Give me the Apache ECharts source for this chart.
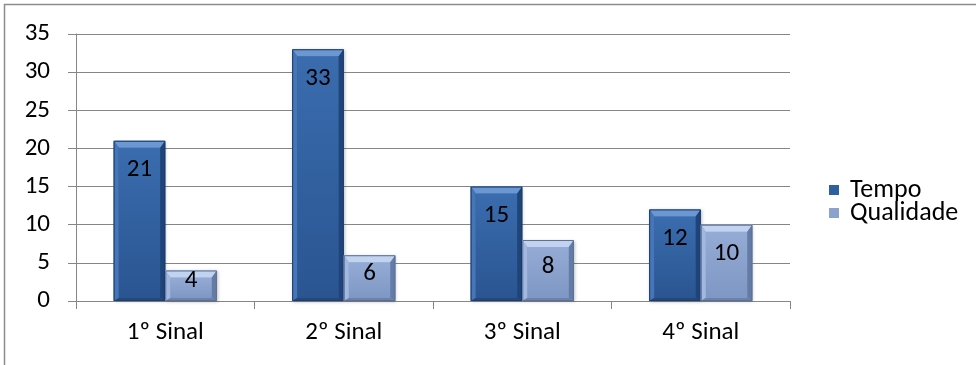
<!DOCTYPE html>
<html>
<head>
<meta charset="utf-8">
<script src="https://cdn.jsdelivr.net/npm/echarts@6/dist/echarts.min.js"></script>
<style>
  html, body { margin: 0; padding: 0; background: #fff; }
  #chart { width: 976px; height: 365px; }
</style>
</head>
<body>
<div id="chart"></div>
<script>
// Sinais avaliados e as duas medidas por sinal
const categories = ['1º Sinal', '2º Sinal', '3º Sinal', '4º Sinal'];
const tempo = [21, 33, 15, 12];
const qualidade = [4, 6, 8, 10];
const seriesNames = ['Tempo', 'Qualidade'];
const yTicks = { min: 0, max: 35, interval: 5 };

const FONT = 'Carlito, Lato, "Open Sans", sans-serif';
const FS = 25;

// Bevelled colour sets: face top/bottom, top bevel, left, right, bottom, outline
const palettes = [
  { faceTop: '#3a6cae', faceBot: '#2a5591', top: '#6b97d3', left: '#4676b8', right: '#1f4479', bottom: '#22487f', edge: '#1c3d6d' },
  { faceTop: '#94abd5', faceBot: '#7f97c4', top: '#c2d3ef', left: '#a3b8de', right: '#647ba6', bottom: '#6a82ad', edge: '#5a6f98' }
];

function bevelBar(side) {
  const p = palettes[side];
  return function (params, api) {
    const cat = api.value(0);
    const val = api.value(1);
    const base = api.coord([cat, 0]);
    const tip = api.coord([cat, val]);
    const band = api.size([1, 0])[0];
    const bw = band * 0.289;
    const x0 = side === 0 ? base[0] - bw : base[0];
    const x1 = x0 + bw;
    const y0 = tip[1];
    const yb = base[1];
    const h = yb - y0;
    const bt = Math.min(7, h / 3);   // top bevel depth
    const bs = 5;                     // side bevel depth
    const bb = 3;                     // bottom bevel depth
    const labelOffset = Math.min(29, h * 0.55 - 6.5);
    return {
      type: 'group',
      children: [
        { type: 'rect', shape: { x: x0, y: y0, width: bw, height: h },
          style: { fill: p.faceBot, shadowBlur: 3, shadowColor: 'rgba(0,0,0,0.25)', shadowOffsetX: 1, shadowOffsetY: 1 } },
        { type: 'rect', shape: { x: x0 + bs, y: y0 + bt, width: bw - 2 * bs, height: h - bt - bb },
          style: { fill: new echarts.graphic.LinearGradient(0, 0, 0, 1, [
            { offset: 0, color: p.faceTop }, { offset: 1, color: p.faceBot }]) } },
        { type: 'polygon', shape: { points: [[x0, y0], [x1, y0], [x1 - bs, y0 + bt], [x0 + bs, y0 + bt]] },
          style: { fill: p.top } },
        { type: 'polygon', shape: { points: [[x0, y0], [x0 + bs, y0 + bt], [x0 + bs, yb - bb], [x0, yb]] },
          style: { fill: p.left } },
        { type: 'polygon', shape: { points: [[x1, y0], [x1, yb], [x1 - bs, yb - bb], [x1 - bs, y0 + bt]] },
          style: { fill: p.right } },
        { type: 'polygon', shape: { points: [[x0, yb], [x0 + bs, yb - bb], [x1 - bs, yb - bb], [x1, yb]] },
          style: { fill: p.bottom } },
        { type: 'rect', shape: { x: x0 + 0.5, y: y0 + 0.5, width: bw - 1, height: h - 1 },
          style: { fill: 'none', stroke: p.edge, lineWidth: 1 } },
        { type: 'text', x: (x0 + x1) / 2, y: y0 + labelOffset,
          style: { text: String(val), fill: '#000', fontSize: FS, fontFamily: FONT, align: 'center', verticalAlign: 'middle' } }
      ]
    };
  };
}

const chart = echarts.init(document.getElementById('chart'), null, { renderer: 'canvas' });
chart.setOption({
  animation: false,
  backgroundColor: '#fff',
  textStyle: { fontFamily: FONT },
  graphic: [{
    type: 'rect', silent: true, z: -10,
    shape: { x: 4.5, y: 4.5, width: 1200, height: 1200 },
    style: { fill: 'none', stroke: '#8c8c8c', lineWidth: 1.5 }
  }],
  grid: { left: 76, right: 186, top: 34, bottom: 64 },
  legend: {
    orient: 'vertical', left: 829, top: 177, padding: 0,
    itemWidth: 10, itemHeight: 10, itemGap: -3,
    icon: 'rect',
    data: seriesNames,
    textStyle: { fontSize: 26, lineHeight: 20, color: '#000', fontFamily: FONT, padding: [0, 0, 0, 6] }
  },
  xAxis: {
    type: 'category',
    data: categories,
    boundaryGap: true,
    axisLine: { lineStyle: { color: '#868686', width: 1 } },
    axisTick: { show: true, length: 8, lineStyle: { color: '#868686' } },
    axisLabel: { fontSize: FS, color: '#000', margin: 19, fontFamily: FONT },
    splitLine: { show: false }
  },
  yAxis: {
    type: 'value',
    min: yTicks.min, max: yTicks.max, interval: yTicks.interval,
    axisLine: { show: true, lineStyle: { color: '#868686', width: 1 } },
    axisTick: { show: true, length: 8, lineStyle: { color: '#868686' } },
    axisLabel: { fontSize: FS, color: '#000', margin: 26, fontFamily: FONT },
    splitLine: { show: true, lineStyle: { color: '#868686', width: 1 } }
  },
  series: [
    {
      name: seriesNames[0], type: 'custom',
      itemStyle: { color: '#2e5f9f' },
      encode: { x: 0, y: 1 },
      renderItem: bevelBar(0),
      data: tempo.map((v, i) => [i, v])
    },
    {
      name: seriesNames[1], type: 'custom',
      itemStyle: { color: '#8aa2cd' },
      encode: { x: 0, y: 1 },
      renderItem: bevelBar(1),
      data: qualidade.map((v, i) => [i, v])
    }
  ]
});
</script>
</body>
</html>
